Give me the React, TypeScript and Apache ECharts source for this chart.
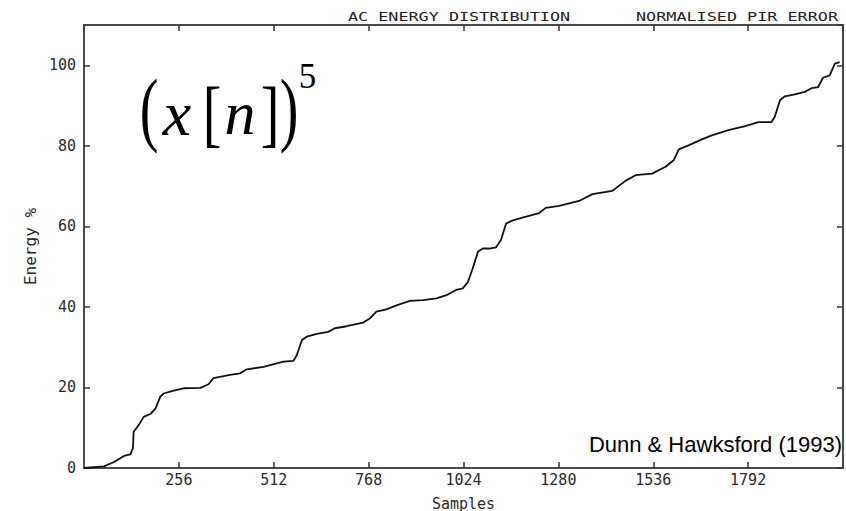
import React, { useEffect, useRef } from "react";
import * as echarts from "echarts";

// Sample index (x) and cumulative AC energy in percent (y)
const sampleIdx = [
  0, 54, 81, 108, 125, 132, 134, 148, 161, 179, 193, 206, 215, 242, 269, 314, 336, 349, 394, 421,
  439, 484, 520, 538, 565, 574, 588, 601, 628, 659, 677, 709, 753, 771, 789, 816, 843, 879, 915,
  951, 978, 1004, 1022, 1036, 1049, 1063, 1076, 1094, 1112, 1125, 1139, 1157, 1193, 1228, 1246,
  1282, 1336, 1372, 1425, 1461, 1488, 1533, 1569, 1591, 1605, 1631, 1667, 1694, 1739, 1784, 1820,
  1855, 1864, 1878, 1891, 1918, 1945, 1963, 1981, 1994, 2012, 2026, 2039,
];
const energyPct = [
  0, 0.4, 1.5, 3.0, 3.4, 4.9, 9.0, 10.7, 12.7, 13.4, 14.8, 17.7, 18.5, 19.2, 19.8, 19.9, 20.8, 22.3,
  23.1, 23.5, 24.5, 25.1, 26.0, 26.4, 26.6, 28.0, 31.8, 32.6, 33.3, 33.8, 34.7, 35.2, 36.1, 37.1,
  38.8, 39.4, 40.4, 41.5, 41.7, 42.1, 42.9, 44.2, 44.6, 46.2, 49.6, 53.7, 54.5, 54.5, 54.8, 56.6,
  60.7, 61.5, 62.4, 63.3, 64.6, 65.1, 66.3, 68.0, 68.8, 71.3, 72.7, 73.1, 74.8, 76.4, 79.1, 80.1,
  81.6, 82.6, 83.9, 84.9, 85.9, 85.9, 87.2, 91.3, 92.3, 92.8, 93.4, 94.3, 94.6, 96.9, 97.5, 100.4,
  100.8,
];

const xMin = 0;
const xMax = 2048;
const xStep = 256;
const yMin = 0;
const yMax = 110;
const yStep = 20;

const xTitle = "Samples";
const yTitle = "Energy %";
const topLeftTitle = "AC ENERGY DISTRIBUTION";
const topRightTitle = "NORMALISED PIR ERROR";
const credit = "Dunn & Hawksford (1993)";

export default function App() {
  const ref = useRef<HTMLDivElement>(null);

  useEffect(() => {
    if (!ref.current) return;
    const chart = echarts.init(ref.current, null, { renderer: "svg" });
    const mono = "'DejaVu Sans Mono', monospace";
    const serif = "'Liberation Serif', 'Times New Roman', serif";
    const data = sampleIdx.map((x, i) => [x, energyPct[i]]);

    const frameLine = { show: true, onZero: false, lineStyle: { color: "#4a4a4a", width: 2 } };
    const tick = { show: true, inside: true, length: 6, lineStyle: { color: "#333", width: 1.5 } };

    const serifText = (
      text: string,
      x: number,
      y: number,
      size: number,
      italic: boolean,
      scaleY = 1
    ) => ({
      type: "text",
      x,
      y,
      scaleY,
      silent: true,
      style: {
        text,
        fontFamily: serif,
        fontSize: size,
        fontStyle: italic ? "italic" : "normal",
        fill: "#000",
        textAlign: "center",
        textVerticalAlign: "middle",
        align: "center",
        verticalAlign: "middle",
      },
    });

    const monoTitle = (text: string, x: number) => ({
      type: "text",
      x,
      y: 16,
      scaleX: 1.4,
      silent: true,
      style: {
        text,
        fontFamily: mono,
        fontSize: 12,
        fill: "#222",
        textAlign: "center",
        textVerticalAlign: "middle",
        align: "center",
        verticalAlign: "middle",
      },
    });

    chart.setOption({
      animation: false,
      backgroundColor: "#ffffff",
      grid: {
        left: 84,
        right: 3,
        top: 25,
        bottom: 43,
        containLabel: false,
        outerBoundsMode: "none",
      },
      xAxis: [
        {
          type: "value",
          position: "bottom",
          min: xMin,
          max: xMax,
          interval: xStep,
          axisLine: frameLine,
          axisTick: tick,
          splitLine: { show: false },
          axisLabel: {
            showMinLabel: false,
            showMaxLabel: false,
            formatter: (v: number) => String(v),
            fontFamily: mono,
            fontSize: 15,
            color: "#2a2a2a",
            margin: 4,
          },
          name: xTitle,
          nameLocation: "middle",
          nameGap: 28,
          nameTextStyle: { fontFamily: mono, fontSize: 15, color: "#2a2a2a" },
        },
        {
          type: "value",
          position: "top",
          min: xMin,
          max: xMax,
          interval: xStep,
          axisLine: frameLine,
          axisTick: tick,
          splitLine: { show: false },
          axisLabel: { show: false },
        },
      ],
      yAxis: [
        {
          type: "value",
          position: "left",
          min: yMin,
          max: yMax,
          interval: yStep,
          axisLine: frameLine,
          axisTick: tick,
          splitLine: { show: false },
          axisLabel: {
            showMaxLabel: false,
            formatter: (v: number) => String(v),
            fontFamily: mono,
            fontSize: 15,
            color: "#2a2a2a",
            margin: 8,
          },
          name: yTitle,
          nameLocation: "middle",
          nameGap: 45,
          nameTextStyle: { fontFamily: mono, fontSize: 16, color: "#2a2a2a" },
        },
        {
          type: "value",
          position: "right",
          min: yMin,
          max: yMax,
          interval: yStep,
          axisLine: frameLine,
          axisTick: tick,
          splitLine: { show: false },
          axisLabel: { show: false },
        },
      ],
      series: [
        {
          type: "line",
          xAxisIndex: 0,
          yAxisIndex: 0,
          data,
          symbol: "none",
          showSymbol: false,
          smooth: false,
          lineStyle: { color: "#111", width: 1.8 },
        },
      ],
      graphic: [
        monoTitle(topLeftTitle, 459),
        monoTitle(topRightTitle, 737),
        serifText("(", 149, 108, 56, false, 1.47),
        serifText("x", 177, 113, 64, true),
        serifText("[", 212, 113, 56, false, 1.31),
        serifText("n", 240, 113, 62, true),
        serifText("]", 270, 113, 56, false, 1.31),
        serifText(")", 289, 108, 56, false, 1.47),
        serifText("5", 307.5, 76, 35, false),
        {
          type: "text",
          x: 842,
          y: 444,
          silent: true,
          style: {
            text: credit,
            fontFamily: "'Liberation Sans', Arial, sans-serif",
            fontSize: 22,
            fill: "#000",
            textAlign: "right",
            textVerticalAlign: "middle",
            align: "right",
            verticalAlign: "middle",
          },
        },
      ],
    });

    return () => chart.dispose();
  }, []);

  return (
    <div
      ref={ref}
      style={{ position: "absolute", left: 0, top: 0, width: 846, height: 511 }}
    />
  );
}
